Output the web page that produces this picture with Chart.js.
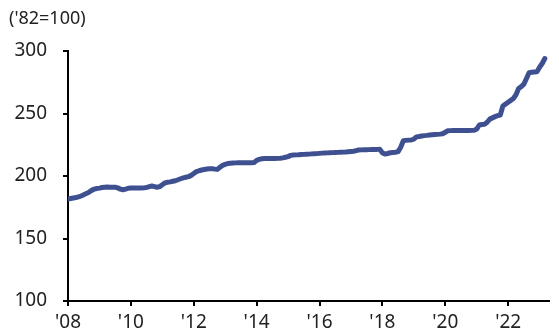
<!DOCTYPE html>
<html>
<head>
<meta charset="utf-8">
<script src="https://cdn.jsdelivr.net/npm/chart.js@4/dist/chart.umd.min.js"></script>
<style>
  html, body { margin: 0; padding: 0; background: #ffffff; }
  #wrap { position: relative; width: 559px; height: 336px; }
</style>
</head>
<body>
<div id="wrap"><canvas id="chart" width="559" height="336"></canvas></div>
<script>
// Monthly index values ('82 = 100), January through December of each year
const firstYear = 2008;
const idx2008 = [181.6, 182.0, 182.4, 182.8, 183.3, 184.0, 185.0, 186.0, 187.0, 188.5, 189.5, 190.0];
const idx2009 = [190.3, 190.8, 191.0, 191.2, 191.0, 191.0, 191.0, 190.5, 189.5, 189.0, 189.5, 190.2];
const idx2010 = [190.4, 190.5, 190.4, 190.5, 190.4, 190.5, 190.8, 191.5, 192.0, 191.5, 191.0, 191.5];
const idx2011 = [193.0, 194.5, 195.0, 195.3, 195.8, 196.2, 197.0, 197.8, 198.5, 199.0, 199.5, 200.5];
const idx2012 = [202.0, 203.5, 204.2, 204.8, 205.2, 205.6, 205.8, 205.9, 205.5, 205.3, 207.0, 208.5];
const idx2013 = [209.3, 210.0, 210.2, 210.4, 210.5, 210.6, 210.6, 210.7, 210.7, 210.6, 210.6, 210.7];
const idx2014 = [212.5, 213.3, 213.8, 214.0, 214.0, 214.1, 214.0, 214.0, 214.1, 214.2, 214.5, 215.0];
const idx2015 = [215.5, 216.5, 216.8, 216.9, 217.0, 217.2, 217.3, 217.4, 217.5, 217.7, 217.8, 217.9];
const idx2016 = [218.1, 218.3, 218.4, 218.5, 218.6, 218.7, 218.8, 218.9, 219.0, 219.1, 219.2, 219.4];
const idx2017 = [219.6, 219.8, 220.3, 220.8, 220.9, 221.0, 221.0, 221.1, 221.2, 221.3, 221.3, 221.4];
const idx2018 = [218.5, 217.6, 218.0, 218.6, 218.8, 219.0, 219.5, 223.0, 228.2, 228.5, 228.7, 228.8];
const idx2019 = [229.5, 231.3, 231.6, 232.0, 232.3, 232.5, 232.8, 233.0, 233.2, 233.3, 233.5, 233.8];
const idx2020 = [235.0, 236.2, 236.3, 236.4, 236.4, 236.4, 236.4, 236.4, 236.4, 236.4, 236.5, 236.6];
const idx2021 = [237.5, 240.8, 241.2, 241.4, 243.0, 245.5, 246.5, 247.5, 248.3, 248.8, 256.0, 257.5];
const idx2022 = [259.0, 260.5, 262.0, 265.0, 270.0, 271.5, 273.5, 278.0, 282.6, 283.0, 283.2, 283.4];
const idx2023 = [287.0, 290.0, 294.0];

const yearlySeries = [idx2008, idx2009, idx2010, idx2011, idx2012, idx2013, idx2014, idx2015,
                      idx2016, idx2017, idx2018, idx2019, idx2020, idx2021, idx2022, idx2023];

// Axis ticks
const xTickYears = [2008, 2010, 2012, 2014, 2016, 2018, 2020, 2022];
const xTickLabels = ["'08", "'10", "'12", "'14", "'16", "'18", "'20", "'22"];
const yTickValues = [100, 150, 200, 250, 300];
const unitLabel = "('82=100)";

// Flatten to {x: fractional year, y: value}
const points = [];
yearlySeries.forEach((months, yi) => {
  months.forEach((v, mi) => {
    points.push({ x: firstYear + yi + mi / 12, y: v });
  });
});

const FONT = '"Noto Sans", "Open Sans", sans-serif';
const TEXT_COLOR = '#222222';
const LINE_COLOR = '#3E5090';

const unitLabelPlugin = {
  id: 'unitLabel',
  afterDraw(chart) {
    const ctx = chart.ctx;
    ctx.save();
    ctx.font = '18px ' + FONT;
    ctx.fillStyle = TEXT_COLOR;
    ctx.textAlign = 'left';
    ctx.textBaseline = 'alphabetic';
    ctx.fillText(unitLabel, 9, 24);
    ctx.restore();
  }
};

new Chart(document.getElementById('chart'), {
  type: 'line',
  data: {
    datasets: [{
      data: points,
      borderColor: LINE_COLOR,
      borderWidth: 5,
      pointRadius: 0,
      tension: 0,
      fill: false,
      borderJoinStyle: 'round',
      borderCapStyle: 'round'
    }]
  },
  options: {
    responsive: false,
    animation: false,
    layout: { padding: { top: 51, right: 10, left: 0, bottom: 0 } },
    plugins: {
      legend: { display: false },
      tooltip: { enabled: false }
    },
    scales: {
      x: {
        type: 'linear',
        min: 2008,
        max: 2023.3,
        afterFit(scale) { scale.height = 35; },
        afterBuildTicks(scale) {
          scale.ticks = xTickYears.map(v => ({ value: v }));
        },
        ticks: {
          autoSkip: false,
          maxRotation: 0,
          padding: 5,
          color: TEXT_COLOR,
          font: { family: FONT, size: 19 },
          callback(value) {
            const i = xTickYears.indexOf(value);
            return i >= 0 ? xTickLabels[i] : '';
          }
        },
        grid: {
          drawOnChartArea: false,
          drawTicks: true,
          tickLength: 5,
          color: '#000000',
          lineWidth: 2
        },
        border: { display: true, color: '#000000', width: 2 }
      },
      y: {
        type: 'linear',
        min: 100,
        max: 300,
        afterFit(scale) { scale.width = 68; },
        afterBuildTicks(scale) {
          scale.ticks = yTickValues.map(v => ({ value: v }));
        },
        ticks: {
          padding: 16,
          color: TEXT_COLOR,
          font: { family: FONT, size: 19 }
        },
        grid: {
          drawOnChartArea: false,
          drawTicks: true,
          tickLength: 5,
          color: '#000000',
          lineWidth: 2
        },
        border: { display: true, color: '#000000', width: 2 }
      }
    }
  },
  plugins: [unitLabelPlugin]
});
</script>
</body>
</html>
